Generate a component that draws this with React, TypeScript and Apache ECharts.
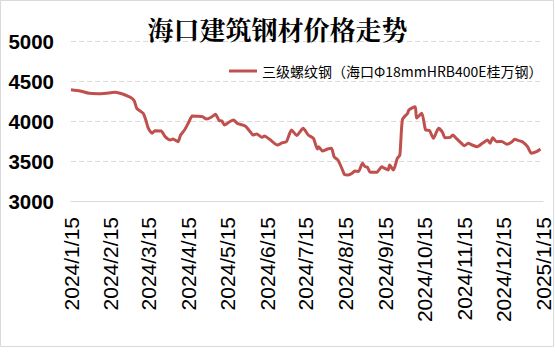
import React, { useEffect, useRef } from "react";
import * as echarts from "echarts";

const title = "海口建筑钢材价格走势";
const seriesName = "三级螺纹钢（海口Φ18mmHRB400E桂万钢）";

const dates = [
  "2024-01-15", "2024-01-22", "2024-01-29", "2024-02-05", "2024-02-13", "2024-02-18", "2024-02-22", "2024-02-26",
  "2024-03-01", "2024-03-04", "2024-03-06", "2024-03-11", "2024-03-13", "2024-03-15", "2024-03-18", "2024-03-20",
  "2024-03-25", "2024-03-28", "2024-04-01", "2024-04-03", "2024-04-07", "2024-04-09", "2024-04-12", "2024-04-15",
  "2024-04-18", "2024-04-22", "2024-04-26", "2024-04-29", "2024-05-03", "2024-05-06", "2024-05-09", "2024-05-11",
  "2024-05-13", "2024-05-17", "2024-05-20", "2024-05-23", "2024-05-29", "2024-06-02", "2024-06-04", "2024-06-07",
  "2024-06-11", "2024-06-13", "2024-06-17", "2024-06-23", "2024-06-27", "2024-06-30", "2024-07-04", "2024-07-08",
  "2024-07-13", "2024-07-17", "2024-07-21", "2024-07-24", "2024-07-25", "2024-07-28", "2024-08-01", "2024-08-04",
  "2024-08-06", "2024-08-09", "2024-08-12", "2024-08-14", "2024-08-17", "2024-08-20", "2024-08-22", "2024-08-25",
  "2024-08-28", "2024-08-30", "2024-09-01", "2024-09-03", "2024-09-08", "2024-09-12", "2024-09-14", "2024-09-17",
  "2024-09-18", "2024-09-21", "2024-09-24", "2024-09-26", "2024-09-28", "2024-10-02", "2024-10-03", "2024-10-06",
  "2024-10-08", "2024-10-09", "2024-10-13", "2024-10-16", "2024-10-19", "2024-10-22", "2024-10-26", "2024-10-29",
  "2024-10-31", "2024-11-04", "2024-11-06", "2024-11-09", "2024-11-12", "2024-11-15", "2024-11-18", "2024-11-21",
  "2024-11-25", "2024-11-29", "2024-12-03", "2024-12-05", "2024-12-07", "2024-12-10", "2024-12-14", "2024-12-18",
  "2024-12-22", "2024-12-24", "2024-12-27", "2024-12-30", "2025-01-03", "2025-01-06", "2025-01-10", "2025-01-13",
];

const prices = [
  4390, 4375, 4346, 4340, 4350, 4358, 4346, 4325,
  4296, 4254, 4158, 4096, 4012, 3908, 3846, 3879,
  3875, 3804, 3762, 3775, 3741, 3825, 3887, 3975,
  4062, 4060, 4054, 4025, 4050, 4083, 4004, 4000,
  3950, 3991, 4012, 3971, 3937, 3866, 3825, 3837,
  3796, 3812, 3771, 3700, 3729, 3741, 3887, 3820,
  3908, 3825, 3783, 3650, 3679, 3625, 3650, 3658,
  3554, 3512, 3408, 3333, 3325, 3346, 3375, 3370,
  3471, 3429, 3420, 3358, 3358, 3429, 3410, 3387,
  3450, 3387, 3533, 3575, 4020, 4096, 4137, 4167,
  4179, 4037, 4096, 3887, 3880, 3783, 3908, 3860,
  3791, 3795, 3825, 3780, 3733, 3691, 3721, 3700,
  3679, 3721, 3762, 3721, 3791, 3741, 3745, 3708,
  3741, 3771, 3755, 3741, 3679, 3596, 3616, 3650,
];

const tickDates = [
  "2024-01-15", "2024-02-15", "2024-03-15", "2024-04-15", "2024-05-15", "2024-06-15", "2024-07-15",
  "2024-08-15", "2024-09-15", "2024-10-15", "2024-11-15", "2024-12-15", "2025-01-15",
];

const yMin = 3000;
const yMax = 5000;
const yStep = 500;

function toTs(s: string): number {
  const [y, m, d] = s.split("-").map(Number);
  return new Date(y, m - 1, d).getTime();
}

export default function App() {
  const ref = useRef<HTMLDivElement>(null);

  useEffect(() => {
    if (!ref.current) return;
    const chart = echarts.init(ref.current, null, { renderer: "svg" });
    const data = dates.map((d, i) => [toTs(d), prices[i]]);
    const ticks = tickDates.map(toTs);
    chart.setOption({
      animation: false,
      backgroundColor: "#ffffff",
      title: {
        text: title,
        left: "center",
        top: 10,
        textStyle: {
          fontSize: 26,
          fontWeight: "bold",
          color: "#000000",
          fontFamily: "'Noto Serif CJK SC', 'Noto Sans CJK SC', serif",
        },
      },
      legend: {
        left: 224,
        top: 59,
        icon: "rect",
        itemWidth: 28,
        itemHeight: 3,
        itemGap: 5,
        textStyle: {
          fontSize: 14,
          color: "#000000",
          fontFamily: "'Noto Sans CJK SC', sans-serif",
        },
        data: [seriesName],
      },
      grid: { left: 71, right: 12, top: 41, bottom: 155 },
      xAxis: {
        type: "value",
        min: ticks[0],
        max: ticks[ticks.length - 1],
        axisLine: { show: true, lineStyle: { color: "#d9d9d9", width: 1 } },
        axisTick: { show: false },
        splitLine: { show: false },
        axisLabel: {
          customValues: ticks,
          rotate: 90,
          margin: 16,
          fontSize: 21,
          color: "#000000",
          fontFamily: "'Liberation Sans', Arial, sans-serif",
          formatter: (v: number) => {
            const d = new Date(v);
            return `${d.getFullYear()}/${d.getMonth() + 1}/${d.getDate()}`;
          },
        },
      },
      yAxis: {
        type: "value",
        min: yMin,
        max: yMax,
        interval: yStep,
        axisLine: { show: false },
        axisTick: { show: false },
        splitLine: { show: true, lineStyle: { color: "#d9d9d9", type: [5, 3], width: 1 } },
        axisLabel: {
          margin: 17,
          fontSize: 20.5,
          fontWeight: "bold",
          color: "#000000",
          fontFamily: "'Liberation Sans', Arial, sans-serif",
          formatter: (v: number) => String(v),
        },
      },
      series: [
        {
          name: seriesName,
          type: "line",
          data,
          symbol: "none",
          smooth: 0.2,
          lineStyle: { color: "#C0504D", width: 3 },
          itemStyle: { color: "#C0504D" },
        },
      ],
      graphic: [
        {
          type: "rect",
          shape: { x: 0.5, y: 0.5, width: 553, height: 346 },
          style: { fill: "none", stroke: "#d9d9d9", lineWidth: 1 },
          silent: true,
        },
      ],
    });
    return () => chart.dispose();
  }, []);

  return (
    <div
      ref={ref}
      style={{ position: "fixed", left: 0, top: 0, width: 555, height: 356, background: "#fff" }}
    />
  );
}
